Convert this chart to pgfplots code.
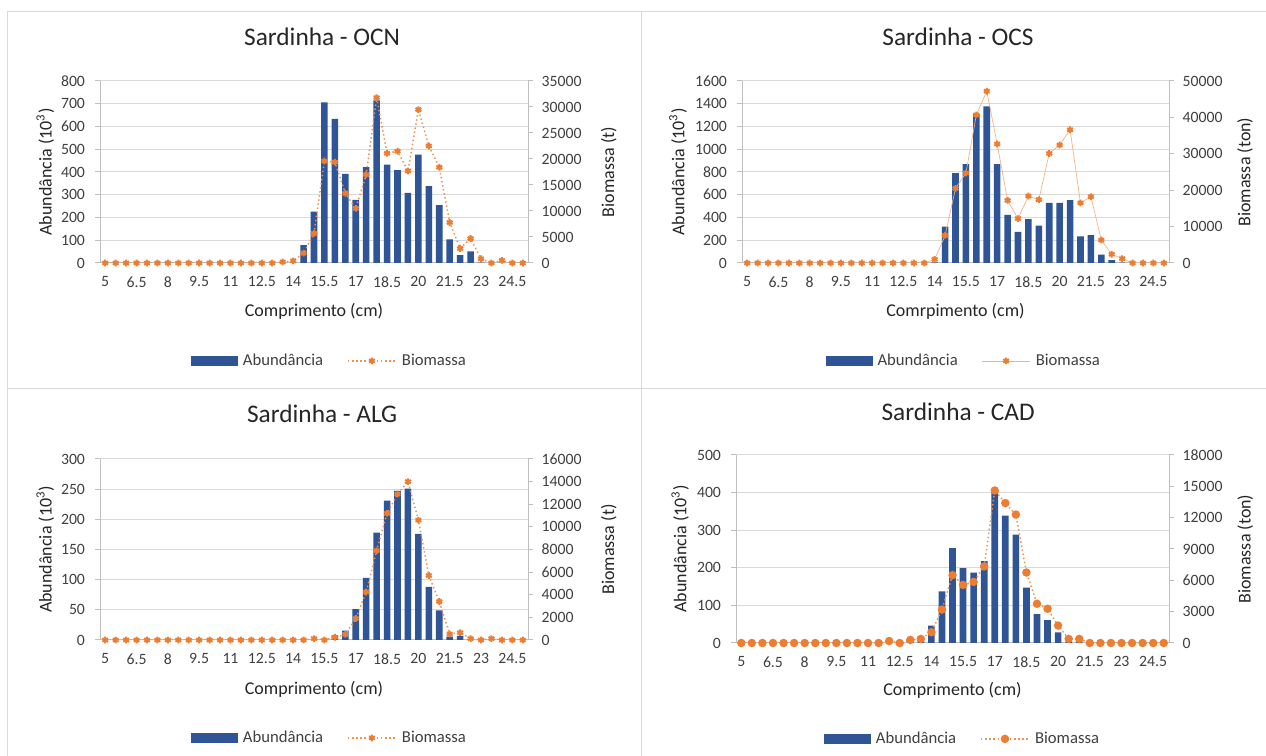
\documentclass[border=0pt]{standalone}
\usepackage{fontspec}
\setmainfont{Carlito}
\usepackage{pgfplots}
\usepackage{pgfplotstable}
\pgfplotsset{compat=1.18}
\definecolor{barblue}{RGB}{47,85,151}
\definecolor{orng}{RGB}{237,125,49}
\definecolor{peach}{RGB}{244,177,131}
\definecolor{gridc}{RGB}{217,217,217}
\definecolor{axc}{RGB}{191,191,191}
\definecolor{tickc}{RGB}{64,64,64}
\definecolor{titc}{RGB}{38,38,38}

% i = category index (length = 5 + 0.5 i cm), a = abundancia, b = biomassa
\pgfplotstableread{
i a b
0 0 0
1 0 0
2 0 0
3 0 0
4 0 0
5 0 0
6 0 0
7 0 0
8 0 0
9 0 0
10 0 0
11 0 0
12 0 0
13 0 0
14 0 0
15 0 0
16 0 0
17 0 200
18 2 400
19 78 1900
20 226 5700
21 706 19600
22 634 19400
23 392 13400
24 277 10500
25 421 17000
26 715 31800
27 432 21100
28 408 21500
29 308 17700
30 476 29500
31 338 22500
32 254 18400
33 104 7800
34 35 2800
35 51 4700
36 2 800
37 0 0
38 0 500
39 0 0
40 0 0
}\ocn

\pgfplotstableread{
i a b
0 0 0
1 0 0
2 0 0
3 0 0
4 0 0
5 0 0
6 0 0
7 0 0
8 0 0
9 0 0
10 0 0
11 0 0
12 0 0
13 0 0
14 0 0
15 0 0
16 0 0
17 0 0
18 5 1000
19 320 7600
20 790 20500
21 869 24700
22 1309 40700
23 1377 47200
24 869 32700
25 423 17200
26 273 12200
27 385 18400
28 329 17400
29 528 30100
30 528 32400
31 552 36600
32 235 16500
33 244 18200
34 73 6300
35 26 2400
36 3 1200
37 0 0
38 0 0
39 0 0
40 0 0
}\ocs

\pgfplotstableread{
i a b
0 0 0
1 0 0
2 0 0
3 0 0
4 0 0
5 0 0
6 0 0
7 0 0
8 0 0
9 0 0
10 0 0
11 0 0
12 0 0
13 0 0
14 0 0
15 0 0
16 0 0
17 0 0
18 0 0
19 0 0
20 0 120
21 0 0
22 8 240
23 15.5 500
24 51 1900
25 103 4250
26 178 7900
27 231 11200
28 247 12900
29 251 14000
30 176 10600
31 88 5700
32 49 3400
33 5.5 530
34 7 650
35 1 120
36 0 0
37 0 120
38 0 0
39 0 0
40 0 0
}\alg

\pgfplotstableread{
i a b
0 0 0
1 0 0
2 0 0
3 0 0
4 0 0
5 0 0
6 0 0
7 0 0
8 0 0
9 0 0
10 0 0
11 0 0
12 0 0
13 0 0
14 0 190
15 0 0
16 13 290
17 18 390
18 46 1030
19 137 3200
20 252 6500
21 199 5560
22 187 5850
23 218 7330
24 405 14600
25 339 13400
26 288 12300
27 147 6750
28 77 3760
29 61 3280
30 28 1670
31 3 390
32 3 390
33 0 0
34 0 0
35 0 0
36 0 0
37 0 0
38 0 0
39 0 0
40 0 0
}\cad

\pgfplotsset{
  common/.style={
    scale only axis, xmin=-0.5, xmax=40.5, ymin=0,
    tick label style={font=\fontsize{11.8}{13}\selectfont, text=tickc},
    /pgf/number format/assume math mode=true,
    /pgf/number format/set thousands separator={},
    /pgf/number format/fixed,
    scaled y ticks=false,
    label style={font=\fontsize{13.5}{16}\selectfont, text=titc},
    axis line style={axc, line width=0.75pt},
    tick align=outside, major tick length=3.75pt,
    y tick style={axc, line width=0.75pt},
  },
  leftax/.style={
    common,
    axis x line*=bottom, axis y line*=left,
    xtick={0,3,...,39},
    xticklabels={5,6.5,8,9.5,11,12.5,14,15.5,17,18.5,20,21.5,23,24.5},
    x tick style={draw=none},
    xticklabel style={yshift=-3pt},
    yticklabel style={xshift=-4pt},
    ymajorgrids, grid style={gridc, line width=0.75pt},
    title style={font=\fontsize{19}{22}\selectfont, text=titc, anchor=center},
    ybar, bar width=0.63,
  },
  rightax/.style={
    common,
    axis x line=none, axis y line*=right,
    yticklabel style={xshift=3pt},
    legend style={draw=none, fill=none, anchor=center, legend columns=2,
      font=\fontsize{12.5}{14}\selectfont, text=tickc,
      /tikz/every odd column/.append style={column sep=2pt},
      /tikz/every even column/.append style={column sep=16pt}},
    legend cell align=left,
  },
  barleg/.style={legend image code/.code={\fill[barblue] (0pt,-3.5pt) rectangle (34.5pt,3.5pt);}},
  lineleg/.style={legend image code/.code={\draw[mark repeat=2,mark phase=2,##1] plot coordinates {(0pt,0pt) (18pt,0pt) (36pt,0pt)};}},
  bars/.style={fill=barblue, draw=none},
  biomdot/.style={orng!85, dotted, line width=1.1pt, mark=asterisk,
    mark size=2.5pt, mark options={solid, orng, line width=1.5pt, fill=orng}, lineleg},
  biomsolid/.style={peach, line width=0.5pt, mark=asterisk,
    mark size=2.5pt, mark options={solid, orng, line width=1.5pt}, lineleg},
  biomcirc/.style={orng!85, dotted, line width=1.1pt, mark=*,
    mark size=2.6pt, mark options={solid, fill=orng, draw=orng}, lineleg},
}

\begin{document}
\begin{tikzpicture}
\useasboundingbox (0pt,0pt) rectangle (949.5pt,567pt);
\fill[white] (0pt,0pt) rectangle (949.5pt,567pt);
% panel borders
\draw[gridc, line width=0.75pt] (5.25pt,558pt) -- (949.5pt,558pt);
\draw[gridc, line width=0.75pt] (5.25pt,275.25pt) -- (949.5pt,275.25pt);
\draw[gridc, line width=0.75pt] (5.25pt,558pt) -- (5.25pt,0pt);
\draw[gridc, line width=0.75pt] (480.75pt,558pt) -- (480.75pt,0pt);

% ---------------- OCN ----------------
\begin{axis}[leftax, at={(75pt,369.75pt)}, anchor=south west,
  width=321pt, height=136.5pt, ymax=800, ytick={0,100,...,800},
  title={Sardinha - OCN}, title style={at={(axis description cs:0.519,1.198)}},
  xlabel={Comprimento (cm)}, xlabel style={at={(axis description cs:0.5,-0.264)}, anchor=center},
  ylabel={Abundância (10\textsuperscript{3})}, ylabel style={at={(axis description cs:-0.128,0.5)}, anchor=center}]
\addplot[bars] table[x=i,y=a]{\ocn};
\end{axis}
\begin{axis}[rightax, at={(75pt,369.75pt)}, anchor=south west,
  width=321pt, height=136.5pt, ymax=35000, ytick={0,5000,...,35000},
  ylabel={Biomassa (t)}, ylabel style={at={(axis description cs:1.189,0.5)}, anchor=center},
  legend style={at={(axis description cs:0.537,-0.538)}}]
\addlegendimage{barleg}
\addlegendentry{Abundância}
\addplot[biomdot] table[x=i,y=b]{\ocn};
\addlegendentry{Biomassa}
\end{axis}

% ---------------- OCS ----------------
\begin{axis}[leftax, at={(556.5pt,369.75pt)}, anchor=south west,
  width=320.25pt, height=136.5pt, ymax=1600, ytick={0,200,...,1600},
  title={Sardinha - OCS}, title style={at={(axis description cs:0.506,1.198)}},
  xlabel={Comrpimento (cm)}, xlabel style={at={(axis description cs:0.5,-0.264)}, anchor=center},
  ylabel={Abundância (10\textsuperscript{3})}, ylabel style={at={(axis description cs:-0.15,0.5)}, anchor=center}]
\addplot[bars] table[x=i,y=a]{\ocs};
\end{axis}
\begin{axis}[rightax, at={(556.5pt,369.75pt)}, anchor=south west,
  width=320.25pt, height=136.5pt, ymax=50000, ytick={0,10000,...,50000},
  ylabel={Biomassa (ton)}, ylabel style={at={(axis description cs:1.178,0.5)}, anchor=center},
  legend style={at={(axis description cs:0.52,-0.538)}}]
\addlegendimage{barleg}
\addlegendentry{Abundância}
\addplot[biomsolid] table[x=i,y=b]{\ocs};
\addlegendentry{Biomassa}
\end{axis}

% ---------------- ALG ----------------
\begin{axis}[leftax, at={(75pt,87pt)}, anchor=south west,
  width=321pt, height=135.75pt, ymax=300, ytick={0,50,...,300},
  title={Sardinha - ALG}, title style={at={(axis description cs:0.519,1.204)}},
  xlabel={Comprimento (cm)}, xlabel style={at={(axis description cs:0.5,-0.27)}, anchor=center},
  ylabel={Abundância (10\textsuperscript{3})}, ylabel style={at={(axis description cs:-0.128,0.5)}, anchor=center}]
\addplot[bars] table[x=i,y=a]{\alg};
\end{axis}
\begin{axis}[rightax, at={(75pt,87pt)}, anchor=south west,
  width=321pt, height=135.75pt, ymax=16000, ytick={0,2000,...,16000},
  ylabel={Biomassa (t)}, ylabel style={at={(axis description cs:1.189,0.5)}, anchor=center},
  legend style={at={(axis description cs:0.537,-0.541)}}]
\addlegendimage{barleg}
\addlegendentry{Abundância}
\addplot[biomdot] table[x=i,y=b]{\alg};
\addlegendentry{Biomassa}
\end{axis}

% ---------------- CAD ----------------
\begin{axis}[leftax, at={(552pt,84.75pt)}, anchor=south west,
  width=324.75pt, height=141pt, ymax=500, ytick={0,100,...,500},
  title={Sardinha - CAD}, title style={at={(axis description cs:0.513,1.186)}},
  xlabel={Comprimento (cm)}, xlabel style={at={(axis description cs:0.5,-0.25)}, anchor=center},
  ylabel={Abundância (10\textsuperscript{3})}, ylabel style={at={(axis description cs:-0.129,0.5)}, anchor=center}]
\addplot[bars] table[x=i,y=a]{\cad};
\end{axis}
\begin{axis}[rightax, at={(552pt,84.75pt)}, anchor=south west,
  width=324.75pt, height=141pt, ymax=18000, ytick={0,3000,...,18000},
  ylabel={Biomassa (ton)}, ylabel style={at={(axis description cs:1.176,0.5)}, anchor=center},
  legend style={at={(axis description cs:0.524,-0.51)}}]
\addlegendimage{barleg}
\addlegendentry{Abundância}
\addplot[biomcirc] table[x=i,y=b]{\cad};
\addlegendentry{Biomassa}
\end{axis}
\end{tikzpicture}
\end{document}
